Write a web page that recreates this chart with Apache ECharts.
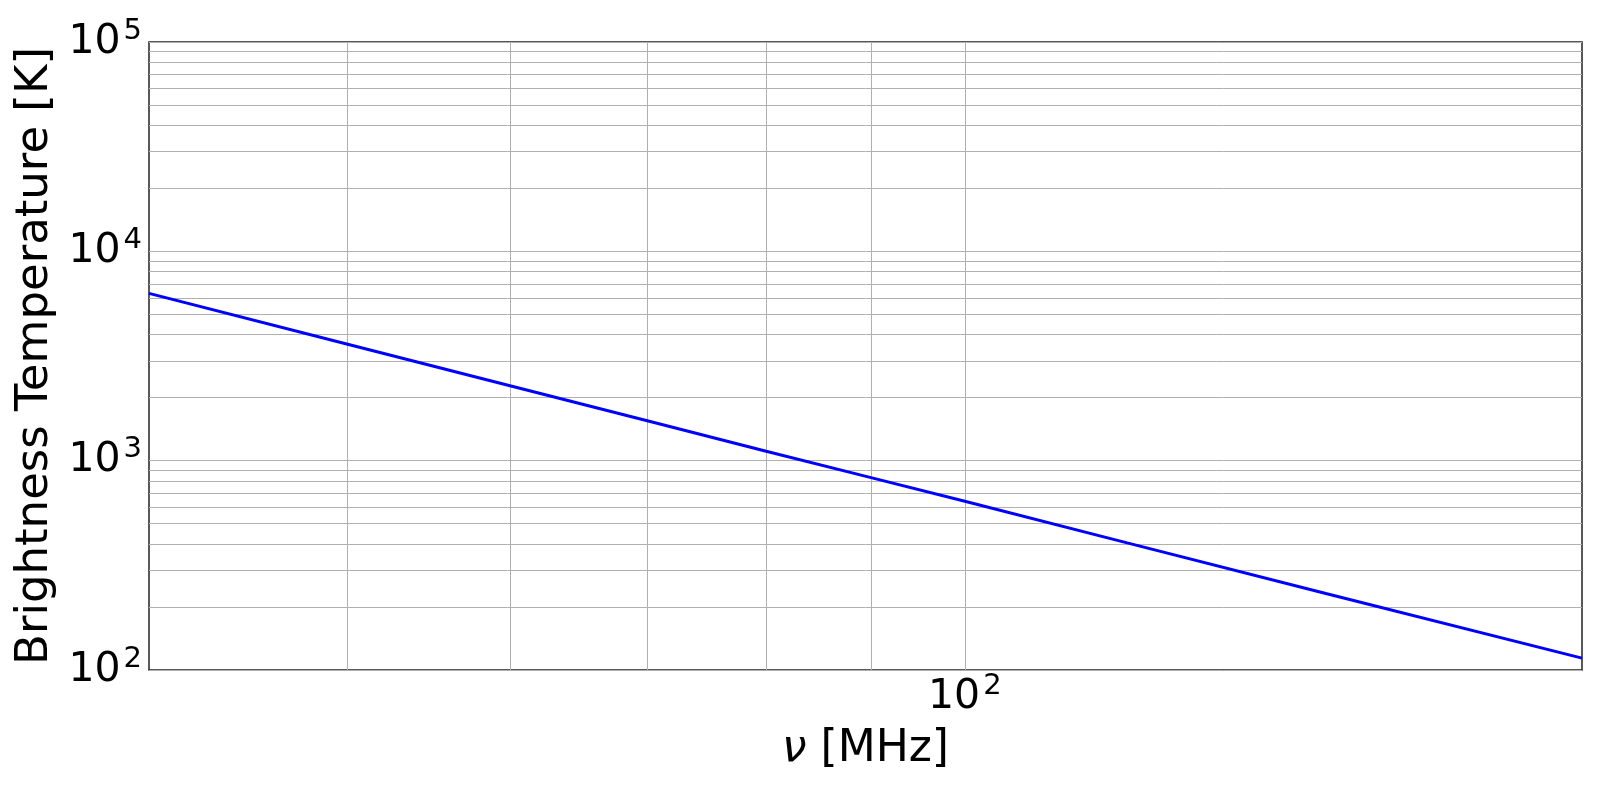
<!DOCTYPE html>
<html>
<head>
<meta charset="utf-8">
<script src="https://cdn.jsdelivr.net/npm/echarts@6/dist/echarts.min.js"></script>
<style>
  html, body { margin: 0; padding: 0; background: #fff; }
  #chart { width: 1600px; height: 790px; }
</style>
</head>
<body>
<div id="chart"></div>
<script>
// frequency in MHz, brightness temperature in K
const freqs = [40, 50, 60, 70, 80, 90, 100, 120, 150, 200];
const temps = [6300, 3600, 2280, 1550, 1110, 830, 640, 405, 232, 114];

// minor grid positions (log axes, 2..9 x decade)
const xMinorGrid = [50, 60, 70, 80, 90, 100];
const yMinorGrid = [200, 300, 400, 500, 600, 700, 800, 900,
                    2000, 3000, 4000, 5000, 6000, 7000, 8000, 9000,
                    20000, 30000, 40000, 50000, 60000, 70000, 80000, 90000];

const font = 'DejaVu Sans';
const gridColor = '#b0b0b0';

function powLabel(v) {
    const e = Math.log10(v);
    if (Math.abs(e - Math.round(e)) > 1e-6) return '';
    return '{b|10}{s|' + Math.round(e) + '}';
}
const labelRich = {
    b: { fontFamily: font, fontSize: 41, color: '#000' },
    s: { fontFamily: font, fontSize: 29, color: '#000', padding: [0, 0, 22, 3] }
};

const chart = echarts.init(document.getElementById('chart'));
const gridLines = [];
xMinorGrid.forEach(v => gridLines.push({ xAxis: v }));
yMinorGrid.forEach(v => gridLines.push({ yAxis: v }));

chart.setOption({
    animation: false,
    grid: {
        left: 149, right: 18, top: 42, bottom: 120,
        show: true, borderColor: '#222', borderWidth: 1.5
    },
    xAxis: {
        type: 'log',
        min: 40, max: 200,
        name: '{i|ν} [MHz]',
        nameLocation: 'middle',
        nameGap: 58,
        nameTextStyle: {
            fontFamily: font, fontSize: 44, color: '#000',
            rich: { i: { fontFamily: font, fontStyle: 'italic', fontSize: 44, color: '#000' } }
        },
        axisLine: { show: false },
        axisTick: { show: false },
        splitLine: { show: false },
        axisLabel: { formatter: powLabel, rich: labelRich, margin: 2, showMinLabel: false, showMaxLabel: false }
    },
    yAxis: {
        type: 'log',
        min: 100, max: 100000,
        name: 'Brightness Temperature [K]',
        nameLocation: 'middle',
        nameGap: 90,
        nameTextStyle: { fontFamily: font, fontSize: 45, color: '#000' },
        axisLine: { show: false },
        axisTick: { show: false },
        splitLine: { show: true, lineStyle: { color: gridColor, width: 1 } },
        axisLabel: { formatter: powLabel, rich: labelRich, margin: 7 }
    },
    series: [
        {
            type: 'line',
            data: [],
            z: 1,
            markLine: {
                silent: true,
                symbol: 'none',
                label: { show: false },
                lineStyle: { color: gridColor, width: 1, type: 'solid' },
                data: gridLines
            }
        },
        {
            type: 'line',
            z: 5,
            data: freqs.map((f, i) => [f, temps[i]]),
            showSymbol: false,
            smooth: false,
            lineStyle: { color: '#0000ff', width: 3 },
            itemStyle: { color: '#0000ff' }
        }
    ]
});
</script>
</body>
</html>
